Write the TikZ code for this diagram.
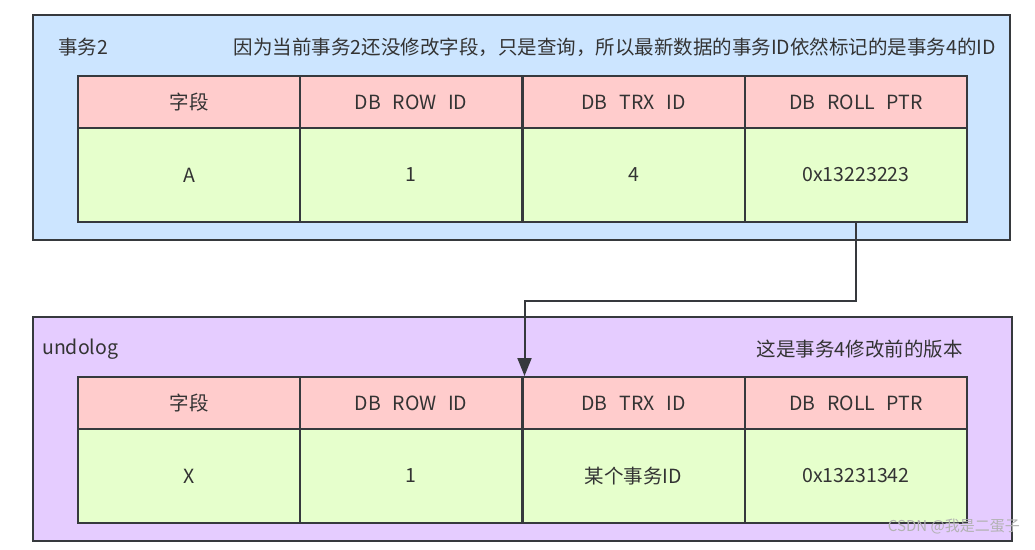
\documentclass[tikz,border=0pt]{standalone}
\usepackage{fontspec}
\setmainfont{Noto Sans CJK SC}
\usetikzlibrary{arrows.meta}

\definecolor{txblue}{HTML}{CCE5FF}
\definecolor{undopurple}{HTML}{E5CCFF}
\definecolor{headred}{HTML}{FFCCCC}
\definecolor{rowgreen}{HTML}{E6FFCC}
\definecolor{edgegray}{HTML}{36393D}
\definecolor{textgray}{HTML}{333333}

\newcommand{\cellfont}{\fontsize{19.5}{23}\selectfont\spaceskip=0.6em\relax}

\tikzset{
  frame/.style={draw=edgegray,line width=2pt,inner sep=0pt},
  head/.style={frame,fill=headred,minimum width=222pt,minimum height=52pt},
  cell/.style={frame,fill=rowgreen,minimum width=222pt,minimum height=94pt},
  txt/.style={text=textgray,font=\cellfont,inner sep=0pt}
}

\begin{document}
\begin{tikzpicture}[x=1pt,y=-1pt,>={Triangle[length=18pt,width=14pt]}]
  \useasboundingbox (0,0) rectangle (1035,549);

  % current transaction
  \node[frame,fill=txblue,minimum width=977pt,minimum height=225pt] (tx) at (521.5,127.5) {};
  \node[txt,anchor=west] (txname) at (58,47) {事务2};
  \node[txt,anchor=east] (txnote) at (996,47) {因为当前事务2还没修改字段，只是查询，所以最新数据的事务ID依然标记的是事务4的ID};

  \node[head,txt] (h1field) at (189,102) {字段};
  \node[head,txt] (h1row) at (411,102) {DB ROW ID};
  \node[head,txt] (h1trx) at (633.5,102) {DB TRX ID};
  \node[head,txt] (h1ptr) at (856,102) {DB ROLL PTR};
  \node[cell,txt] (d1field) at (189,175) {A};
  \node[cell,txt] (d1row) at (411,175) {1};
  \node[cell,txt] (d1trx) at (633.5,175) {4};
  \node[cell,txt] (d1ptr) at (856,175) {0x13223223};

  % undo log
  \node[frame,fill=undopurple,minimum width=979pt,minimum height=224pt] (undo) at (522.5,429) {};
  \node[txt,anchor=west] (undoname) at (42,349) {undolog};
  \node[txt,anchor=east] (undonote) at (963,349) {这是事务4修改前的版本};

  \node[head,txt] (h2field) at (189,403) {字段};
  \node[head,txt] (h2row) at (411,403) {DB ROW ID};
  \node[head,txt] (h2trx) at (633.5,403) {DB TRX ID};
  \node[head,txt] (h2ptr) at (856,403) {DB ROLL PTR};
  \node[cell,txt] (d2field) at (189,476) {X};
  \node[cell,txt] (d2row) at (411,476) {1};
  \node[cell,txt] (d2trx) at (633.5,476) {某个事务ID};
  \node[cell,txt] (d2ptr) at (856,476) {0x13231342};

  \draw[->,draw=edgegray,line width=2pt] (d1ptr.south) -- ++(0,78) -| ([xshift=3pt]h2trx.north west);

  \node[text=gray!60,font=\fontsize{15}{18}\selectfont,anchor=east,inner sep=0pt] (mark) at (1020,527) {CSDN @我是二蛋子};
\end{tikzpicture}
\end{document}
